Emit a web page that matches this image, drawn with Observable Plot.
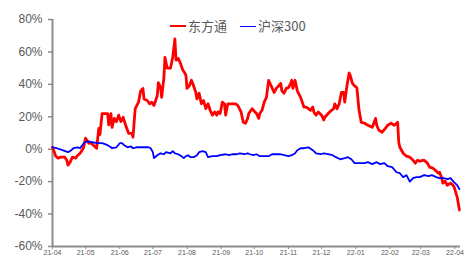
<!DOCTYPE html>
<html><head><meta charset="utf-8">
<script src="https://cdn.jsdelivr.net/npm/d3@7"></script>
<script src="https://cdn.jsdelivr.net/npm/@observablehq/plot@0.6"></script>
<style>
body{margin:0;background:#fff;}
#wrap{position:relative;width:468px;height:259px;}
#legend{position:absolute;top:18px;left:170px;font-family:"Noto Sans CJK SC","Noto Sans",sans-serif;font-size:13px;color:#595959;display:flex;align-items:center;line-height:16px;}
.sw{display:inline-block;width:16px;margin-right:2px;}
</style></head><body>
<div id="wrap"><div id="legend"></div></div>
<script>
const seriesNames = ["东方通", "沪深300"];
const seriesColors = ["#ff0000", "#0000ff"];
const yTicks = [-60, -40, -20, 0, 20, 40, 60, 80];
const monthTicks = ["2021-04-01","2021-05-01","2021-06-01","2021-07-01","2021-08-01","2021-09-01","2021-10-01","2021-11-01","2021-12-01","2022-01-01","2022-02-01","2022-03-01","2022-04-01"];

const redDates = [
"2021-04-01","2021-04-04","2021-04-06","2021-04-08","2021-04-12","2021-04-14","2021-04-15","2021-04-17","2021-04-19","2021-04-22","2021-04-24","2021-04-26","2021-04-29",
"2021-05-01","2021-05-04","2021-05-05","2021-05-08","2021-05-11","2021-05-13","2021-05-14","2021-05-16","2021-05-19","2021-05-21","2021-05-22","2021-05-24","2021-05-25","2021-05-27","2021-05-29","2021-05-31",
"2021-06-02","2021-06-04","2021-06-07","2021-06-09","2021-06-12","2021-06-13","2021-06-15","2021-06-18","2021-06-20","2021-06-22","2021-06-23","2021-06-26","2021-06-28","2021-06-30",
"2021-07-02","2021-07-03","2021-07-05","2021-07-06","2021-07-08","2021-07-09","2021-07-11","2021-07-12","2021-07-14","2021-07-17","2021-07-19","2021-07-21","2021-07-22","2021-07-24","2021-07-26","2021-07-28","2021-07-30","2021-07-31",
"2021-08-01","2021-08-03","2021-08-05","2021-08-07","2021-08-09","2021-08-10","2021-08-12","2021-08-14","2021-08-16","2021-08-18","2021-08-20","2021-08-22","2021-08-24","2021-08-26","2021-08-28","2021-08-29","2021-08-31",
"2021-09-02","2021-09-04","2021-09-05","2021-09-07","2021-09-10","2021-09-14","2021-09-16","2021-09-19","2021-09-21","2021-09-23","2021-09-25","2021-09-26","2021-09-29",
"2021-10-01","2021-10-03","2021-10-05","2021-10-06","2021-10-08","2021-10-10","2021-10-12","2021-10-14","2021-10-15","2021-10-17","2021-10-19","2021-10-21","2021-10-23","2021-10-25","2021-10-26","2021-10-28","2021-10-30",
"2021-11-01","2021-11-03","2021-11-04","2021-11-05","2021-11-07","2021-11-09","2021-11-12","2021-11-14","2021-11-15","2021-11-17","2021-11-19","2021-11-21","2021-11-23","2021-11-24","2021-11-26","2021-11-28",
"2021-12-01","2021-12-03","2021-12-04","2021-12-07","2021-12-10","2021-12-12","2021-12-13","2021-12-15","2021-12-17","2021-12-19","2021-12-21","2021-12-22","2021-12-24","2021-12-26","2021-12-27","2021-12-29","2021-12-31",
"2022-01-02","2022-01-04","2022-01-06","2022-01-09","2022-01-12","2022-01-16","2022-01-19","2022-01-20","2022-01-22","2022-01-25","2022-01-28","2022-01-30",
"2022-02-02","2022-02-05","2022-02-08","2022-02-09","2022-02-10","2022-02-13","2022-02-16","2022-02-19","2022-02-22","2022-02-24","2022-02-26","2022-02-28",
"2022-03-04","2022-03-07","2022-03-09","2022-03-12","2022-03-14","2022-03-17","2022-03-18","2022-03-20","2022-03-21","2022-03-23","2022-03-25","2022-03-28","2022-03-29","2022-03-31",
"2022-04-03","2022-04-05"];
const redValues = [
1.2,-4.3,-5.5,-4.9,-4.9,-6.8,-9.8,-8.0,-4.9,-5.5,-3.7,-2.5,0.6,
6.8,3.7,4.3,2.5,0.6,12.9,9.0,22,22,22,15,22,13.5,19,17,21,
17,19.7,13.5,9.8,9.8,7.4,25,29,36,37.5,31,30,28,29,
27,29,33,41,38,32,44,56.6,50,50,56.6,68,55,56,53,49,47,45.5,
37.5,39,42.5,39,35,31,34.5,28,30,25,28,24,21,23,21,23,22,
29,28,21,28,28,28,27,23,16.6,16,19,22,25,
23.4,22,19,22,24,29,32,42.5,41,38,35,37.5,39,40.6,36,34.5,37.5,
38,40.6,42.5,37.5,42.5,36,32,28,26,26,25,24,26,23,21,23,
21,18,19.7,22,24,25,28,25,28,35,35,29,39,47,45.5,40.6,39,
38,24,16.6,16,14.8,13.5,19,14.8,11.7,10.5,13,14.8,
16,14.8,16.6,4.3,1.2,-2.5,-4.3,-4.9,-6.8,-8.6,-6.8,-7.4,
-6.8,-8.6,-11.1,-11.7,-12.9,-14.8,-14.2,-17.8,-20.9,-19.7,-22.2,-20.9,-21.5,-22.8,
-29.5,-37.5];

const blueDates = [
"2021-04-01","2021-04-05","2021-04-10","2021-04-15","2021-04-17","2021-04-20","2021-04-24","2021-04-26","2021-04-30",
"2021-05-03","2021-05-07","2021-05-12","2021-05-16","2021-05-21","2021-05-24","2021-05-25","2021-05-29",
"2021-06-01","2021-06-03","2021-06-05","2021-06-08","2021-06-11","2021-06-13","2021-06-16","2021-06-20","2021-06-24","2021-06-27","2021-06-29",
"2021-07-01","2021-07-02","2021-07-05","2021-07-08","2021-07-11","2021-07-13","2021-07-17","2021-07-19","2021-07-21","2021-07-24","2021-07-27","2021-07-29","2021-07-31",
"2021-08-02","2021-08-04","2021-08-07","2021-08-10","2021-08-12","2021-08-15","2021-08-18","2021-08-20","2021-08-24","2021-08-28","2021-08-31",
"2021-09-05","2021-09-08","2021-09-11","2021-09-15","2021-09-18","2021-09-22","2021-09-25","2021-09-27","2021-09-30",
"2021-10-03","2021-10-06","2021-10-10","2021-10-14","2021-10-17","2021-10-21","2021-10-25","2021-10-28",
"2021-11-01","2021-11-04","2021-11-07","2021-11-09","2021-11-12","2021-11-15","2021-11-19","2021-11-23","2021-11-26","2021-11-30",
"2021-12-03","2021-12-07","2021-12-11","2021-12-14","2021-12-18","2021-12-22","2021-12-25","2021-12-28","2021-12-31",
"2022-01-05","2022-01-09","2022-01-12","2022-01-16","2022-01-20","2022-01-23","2022-01-27","2022-01-30",
"2022-02-03","2022-02-07","2022-02-10","2022-02-13","2022-02-16","2022-02-19","2022-02-22","2022-02-25","2022-02-28",
"2022-03-04","2022-03-08","2022-03-11","2022-03-15","2022-03-18","2022-03-22","2022-03-25","2022-03-28","2022-03-31",
"2022-04-03","2022-04-05"];
const blueValues = [
1.2,0.6,-0.6,-1.8,-1.2,0.6,1.2,0.6,4.3,
4.9,4.3,3.7,3.7,2.5,1.2,0.6,1.2,
3.7,3.7,2.5,1.2,1.8,0.6,1.2,1.2,1.2,1.2,0.6,
-1.8,-5.5,-3.7,-2.5,-3.1,-1.8,-2.5,-1.2,-2.5,-3.1,-4.3,-5.5,-4.3,
-3.7,-4.9,-4.9,-3.7,-1.8,-1.2,-1.8,-4.9,-4.3,-4.3,-3.7,
-3.1,-3.7,-3.1,-3.1,-2.5,-3.1,-2.5,-3.1,-3.7,
-3.1,-4.3,-4.3,-4.3,-3.1,-3.1,-3.1,-3.7,
-4.3,-3.7,-2.5,-0.6,0.6,0.6,1.2,-0.6,-2.5,-3.1,
-2.5,-3.1,-3.7,-4.9,-6.2,-5.5,-4.9,-6.2,-8.6,
-8.6,-8.6,-8.0,-9.2,-8.0,-9.2,-8.6,-10.5,
-11.1,-14.2,-14.8,-17.2,-16,-20,-17.8,-17.2,-17.2,
-16,-16.6,-16,-17.2,-17.8,-17.8,-18.5,-17.8,-20.3,
-22.2,-24.6];

const red = redDates.map((d, i) => ({date: new Date(d), value: redValues[i]}));
const blue = blueDates.map((d, i) => ({date: new Date(d), value: blueValues[i]}));
const x0 = new Date("2021-04-01"), x1 = new Date("2022-04-06");
const axisColor = "#8c8c8c", labelColor = "#595959";

const chart = Plot.plot({
  width: 468, height: 259,
  marginLeft: 52, marginRight: 8, marginTop: 19, marginBottom: 13,
  style: {fontFamily: "'Liberation Sans', Arial, sans-serif", background: "#fff"},
  x: {type: "utc", domain: [x0, x1]},
  y: {domain: [-60, 80]},
  marks: [
    Plot.axisY({ticks: yTicks, tickFormat: d => d + "%", tickSize: 4, tickPadding: 6, fontSize: 12, color: labelColor, stroke: axisColor, strokeWidth: 1.5, label: null}),
    Plot.axisX({ticks: monthTicks.map(d => new Date(d)), tickFormat: d3.utcFormat("%y-%m"), tickSize: 3, tickPadding: 1, fontSize: 7, color: labelColor, stroke: axisColor, label: null}),
    Plot.ruleX([x0], {y1: -60, y2: 80, stroke: axisColor, strokeWidth: 2}),
    Plot.ruleY([-60], {x1: x0, x2: x1, stroke: axisColor, strokeWidth: 2}),
    Plot.line(red, {x: "date", y: "value", stroke: seriesColors[0], strokeWidth: 2.8}),
    Plot.line(blue, {x: "date", y: "value", stroke: seriesColors[1], strokeWidth: 1.8})
  ]
});
const wrap = document.getElementById("wrap");
wrap.insertBefore(chart, wrap.firstChild);

const legend = document.getElementById("legend");
seriesNames.forEach((n, i) => {
  const item = document.createElement("span");
  item.style.display = "inline-flex";
  item.style.alignItems = "center";
  item.style.marginRight = i === 0 ? "13px" : "0";
  const sw = document.createElement("span");
  sw.className = "sw";
  sw.style.borderTop = (i === 0 ? 2.8 : 1.8) + "px solid " + seriesColors[i];
  item.appendChild(sw);
  item.appendChild(document.createTextNode(n));
  legend.appendChild(item);
});
</script>
</body></html>
